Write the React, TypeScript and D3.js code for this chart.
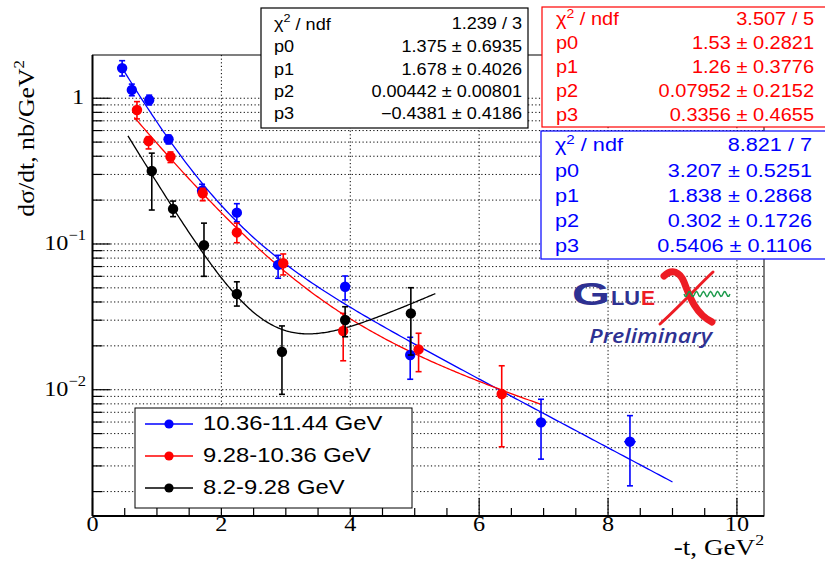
import React from "react";
import * as d3 from "d3";

const width = 825;
const height = 567;
const frame = { left: 92.5, right: 764, top: 55, bottom: 516 };

// 10.36-11.44 GeV
const blueT = [0.46, 0.61, 0.88, 1.18, 1.7, 2.24, 2.88, 3.92, 4.93, 6.96, 8.34];
const blueV = [1.61, 1.14, 0.973, 0.523, 0.232, 0.164, 0.0718, 0.0509, 0.0173, 0.00597, 0.0044];
const blueHi = [1.81, 1.25, 1.05, 0.559, 0.257, 0.189, 0.0836, 0.0603, 0.0229, 0.0086, 0.00664];
const blueLo = [1.42, 1.04, 0.9, 0.486, 0.217, 0.142, 0.0582, 0.0413, 0.0118, 0.00334, 0.00219];
const blueXerr = [0, 0, 0, 0, 0, 0, 0, 0, 0, 0, 0.09];

// 9.28-10.36 GeV
const redT = [0.69, 0.87, 1.21, 1.71, 2.24, 2.96, 3.89, 5.06, 6.35];
const redV = [0.831, 0.509, 0.397, 0.223, 0.12, 0.0737, 0.0253, 0.0189, 0.00934];
const redHi = [0.948, 0.545, 0.428, 0.241, 0.139, 0.0854, 0.0334, 0.0244, 0.0146];
const redLo = [0.721, 0.449, 0.362, 0.198, 0.102, 0.0613, 0.0158, 0.0133, 0.00406];

// 8.2-9.28 GeV
const blackT = [0.92, 1.25, 1.73, 2.24, 2.94, 3.92, 4.94];
const blackV = [0.317, 0.174, 0.098, 0.0454, 0.0182, 0.0301, 0.0334];
const blackHi = [0.42, 0.197, 0.139, 0.055, 0.0274, 0.0371, 0.0501];
const blackLo = [0.171, 0.154, 0.06, 0.0375, 0.0093, 0.0231, 0.0173];

// fit p0*exp(-p1*t) + p2*exp(-p3*t), parameters from the stat boxes
const blueFit = [3.207, 1.838, 0.302, 0.5406];
const redFit = [1.53, 1.26, 0.07952, 0.3356];
const blackFit = [1.375, 1.678, 0.00442, -0.4381];
const blueRange = [0.46, 9.0];
const redRange = [0.65, 6.97];
const blackRange = [0.55, 5.32];

const blackStats = ["1.239 / 3", "1.375 \u00b1 0.6935", "1.678 \u00b1 0.4026", "0.00442 \u00b1 0.00801", "\u22120.4381 \u00b1 0.4186"];
const redStats = ["3.507 / 5", "1.53 \u00b1 0.2821", "1.26 \u00b1 0.3776", "0.07952 \u00b1 0.2152", "0.3356 \u00b1 0.4655"];
const blueStats = ["8.821 / 7", "3.207 \u00b1 0.5251", "1.838 \u00b1 0.2868", "0.302 \u00b1 0.1726", "0.5406 \u00b1 0.1106"];
const statNames = ["p0", "p1", "p2", "p3"];

const legendLabels = ["10.36-11.44 GeV", "9.28-10.36 GeV", "8.2-9.28 GeV"];
const legendColors = ["#0000ff", "#ff0000", "#000"];
const xTickLabels = [0, 2, 4, 6, 8, 10];

const x = d3.scaleLinear().domain([0, 10.42]).range([frame.left, frame.right]);
const y = d3.scaleLog().domain([0.00136, 1.98]).range([frame.bottom, frame.top]);

const serif = "'Liberation Serif', 'Times New Roman', serif";
const sans = "'Liberation Sans', Arial, Helvetica, sans-serif";

const fitLine = d3
  .line<number[]>()
  .x(d => x(d[0]))
  .y(d => y(d[1]));

function fitPoints(p: number[], r: number[]) {
  const n = 200;
  return d3.range(n + 1).map(i => {
    const t = r[0] + ((r[1] - r[0]) * i) / n;
    return [t, p[0] * Math.exp(-p[1] * t) + p[2] * Math.exp(-p[3] * t)];
  });
}

// text stretched horizontally, like the ROOT output
function SText({ x0, y0, sx = 1, anchor = "start", children, ...rest }: any) {
  return (
    <g transform={`translate(${x0},${y0}) scale(${sx},1)`}>
      <text x={0} y={0} textAnchor={anchor} dominantBaseline="middle" {...rest}>
        {children}
      </text>
    </g>
  );
}

function Series({ ts, vs, hi, lo, xerr, color }: any) {
  return (
    <g>
      {ts.map((t: number, i: number) => {
        const cx = x(t);
        const ex = xerr ? xerr[i] : 0;
        return (
          <g key={i}>
            <line x1={cx} x2={cx} y1={y(hi[i])} y2={y(lo[i])} stroke={color} strokeWidth={1.6} />
            <line x1={cx - 3} x2={cx + 3} y1={y(hi[i])} y2={y(hi[i])} stroke={color} strokeWidth={1.6} />
            <line x1={cx - 3} x2={cx + 3} y1={y(lo[i])} y2={y(lo[i])} stroke={color} strokeWidth={1.6} />
            {ex > 0 && (
              <line x1={x(t - ex)} x2={x(t + ex)} y1={y(vs[i])} y2={y(vs[i])} stroke={color} strokeWidth={1.6} />
            )}
            <circle cx={cx} cy={y(vs[i])} r={5.2} fill={color} />
          </g>
        );
      })}
    </g>
  );
}

function StatBox({ x0, y0, w, h, color, values, rows, fontSize, sx, left, right }: any) {
  return (
    <g fontFamily={sans} fontSize={fontSize} fill={color}>
      <rect x={x0} y={y0} width={w} height={h} fill="white" stroke={color} strokeWidth={1.2} />
      <SText x0={left} y0={rows[0]} sx={sx}>
        {"\u03c7"}
        <tspan dy={-6} fontSize={fontSize * 0.7}>2</tspan>
        <tspan dy={6}> / ndf</tspan>
      </SText>
      <SText x0={right} y0={rows[0]} sx={sx} anchor="end">{values[0]}</SText>
      {statNames.map((n, i) => (
        <g key={n}>
          <SText x0={left} y0={rows[i + 1]} sx={sx}>{n}</SText>
          <SText x0={right} y0={rows[i + 1]} sx={sx} anchor="end">{values[i + 1]}</SText>
        </g>
      ))}
    </g>
  );
}

export default function App() {
  // log ticks 1..9 x 10^k
  const yTicks: { v: number; major: boolean }[] = [];
  for (let e = -3; e <= 0; e++) {
    for (let m = 1; m <= 9; m++) {
      const v = m * Math.pow(10, e);
      if (v >= 0.00136 && v <= 1.98) yTicks.push({ v, major: m === 1 });
    }
  }
  const xTicks = d3.range(0, 10.5, 0.5);

  const wave = d3.range(0, 41).map(i => [684 + i * 1.15, 294 + 2.6 * Math.sin((i / 40) * Math.PI * 2 * 6.5)]);

  return (
    <svg width={width} height={height} style={{ position: "absolute", left: 0, top: 0, background: "white" }}>
      <rect width={width} height={height} fill="white" />

      {/* grid */}
      <g stroke="#000" strokeWidth={1} strokeDasharray="1.2 2.4">
        {yTicks.map(t => (
          <line key={t.v} x1={frame.left} x2={frame.right} y1={y(t.v)} y2={y(t.v)} />
        ))}
        {xTickLabels.slice(1).map(t => (
          <line key={t} x1={x(t)} x2={x(t)} y1={frame.top} y2={frame.bottom} />
        ))}
      </g>

      {/* fits */}
      <path d={fitLine(fitPoints(blueFit, blueRange) as any) || ""} fill="none" stroke="#0000ff" strokeWidth={1.3} />
      <path d={fitLine(fitPoints(redFit, redRange) as any) || ""} fill="none" stroke="#ff0000" strokeWidth={1.3} />
      <path d={fitLine(fitPoints(blackFit, blackRange) as any) || ""} fill="none" stroke="#000" strokeWidth={1.3} />

      <Series ts={blueT} vs={blueV} hi={blueHi} lo={blueLo} xerr={blueXerr} color="#0000ff" />
      <Series ts={redT} vs={redV} hi={redHi} lo={redLo} color="#ff0000" />
      <Series ts={blackT} vs={blackV} hi={blackHi} lo={blackLo} color="#000" />

      {/* frame + axes */}
      <rect x={frame.left} y={frame.top} width={frame.right - frame.left} height={frame.bottom - frame.top} fill="none" stroke="#000" strokeWidth={1} />
      <line x1={frame.left} x2={frame.left} y1={frame.top} y2={frame.bottom} stroke="#000" strokeWidth={2} />
      <line x1={frame.left} x2={frame.right} y1={frame.bottom} y2={frame.bottom} stroke="#000" strokeWidth={2} />
      {yTicks.map(t => (
        <line key={t.v} x1={frame.left} x2={frame.left + (t.major ? 18 : 10)} y1={y(t.v)} y2={y(t.v)} stroke="#000" strokeWidth={1.2} />
      ))}
      {xTicks.map(t => (
        <line key={t} x1={x(t)} x2={x(t)} y1={frame.bottom} y2={frame.bottom - (t % 2 === 0 ? 18 : 8)} stroke="#000" strokeWidth={1.2} />
      ))}

      {/* tick labels and titles */}
      <g fontFamily={serif} fontSize={22} fill="#000">
        {xTickLabels.map(t => (
          <SText key={t} x0={x(t)} y0={526} sx={1.1} anchor="middle">{t}</SText>
        ))}
        <SText x0={84} y0={y(1) + 1} sx={1.1} anchor="end">1</SText>
        <SText x0={86} y0={y(0.1) + 1} sx={1.1} anchor="end">
          10<tspan dy={-9} fontSize={15}>{"\u22121"}</tspan>
        </SText>
        <SText x0={86} y0={y(0.01) + 1} sx={1.1} anchor="end">
          10<tspan dy={-9} fontSize={15}>{"\u22122"}</tspan>
        </SText>
        <SText x0={frame.right} y0={550} sx={1.18} anchor="end" fontSize={23}>
          -t, GeV<tspan dy={-9} fontSize={15}>2</tspan>
        </SText>
        <g transform="translate(29,60) rotate(-90) scale(1.12,1)">
          <text x={0} y={0} textAnchor="end" dominantBaseline="middle" fontSize={23}>
            d{"\u03c3"}/dt, nb/GeV<tspan dy={-9} fontSize={15}>2</tspan>
          </text>
        </g>
      </g>

      {/* stat boxes */}
      <StatBox x0={261} y0={8} w={267} h={120} color="#000" values={blackStats} rows={[25, 48, 71, 93, 115]} fontSize={16} sx={1.13} left={274} right={522} />
      <StatBox x0={542} y0={7} w={290} h={120} color="#ff0000" values={redStats} rows={[20, 44, 68, 92, 116]} fontSize={18.5} sx={1.08} left={556} right={814} />
      <StatBox x0={541} y0={131} w={290} h={128} color="#0000ff" values={blueStats} rows={[146, 172, 197, 222, 247]} fontSize={19} sx={1.14} left={555} right={812} />

      {/* GlueX logo */}
      <g>
        <text x={572} y={305} fontFamily={sans} fontWeight={900} fontSize={32} fill="#2e3192" textLength={38} lengthAdjust="spacingAndGlyphs">G</text>
        <text x={611} y={305} fontFamily={sans} fontWeight={900} fontSize={21} fill="#2e3192" textLength={29} lengthAdjust="spacingAndGlyphs">LU</text>
        <text x={641} y={305} fontFamily={sans} fontWeight={900} fontSize={21} fill="#ed1c24">E</text>
        <path d="M664,276 C672,268 680,272 684,282 C690,298 696,314 712,322" fill="none" stroke="#ed1c24" strokeWidth={7} strokeLinecap="round" />
        <path d="M713,272 C700,284 684,302 660,324" fill="none" stroke="#ed1c24" strokeWidth={3} strokeLinecap="round" />
        <path d={d3.line()(wave as any) || ""} fill="none" stroke="#1a9a4a" strokeWidth={1.4} />
        <text x={589} y={343} fontFamily="'Open Sans', sans-serif" fontStyle="italic" fontWeight={600} fontSize={20} fill="#2e3192" textLength={123} lengthAdjust="spacingAndGlyphs">Preliminary</text>
      </g>

      {/* legend */}
      <g fontFamily={sans} fontSize={19.5}>
        <rect x={135} y={408} width={277} height={100} fill="white" stroke="#000" strokeWidth={1} />
        {legendLabels.map((l, i) => {
          const c = legendColors[i];
          const ly = 424 + i * 32;
          return (
            <g key={l}>
              <line x1={145} x2={193} y1={ly} y2={ly} stroke={c} strokeWidth={1.3} />
              <circle cx={169} cy={ly} r={4.6} fill={c} />
              <SText x0={203} y0={ly + 1} sx={1.22} fill="#000">{l}</SText>
            </g>
          );
        })}
      </g>
    </svg>
  );
}
